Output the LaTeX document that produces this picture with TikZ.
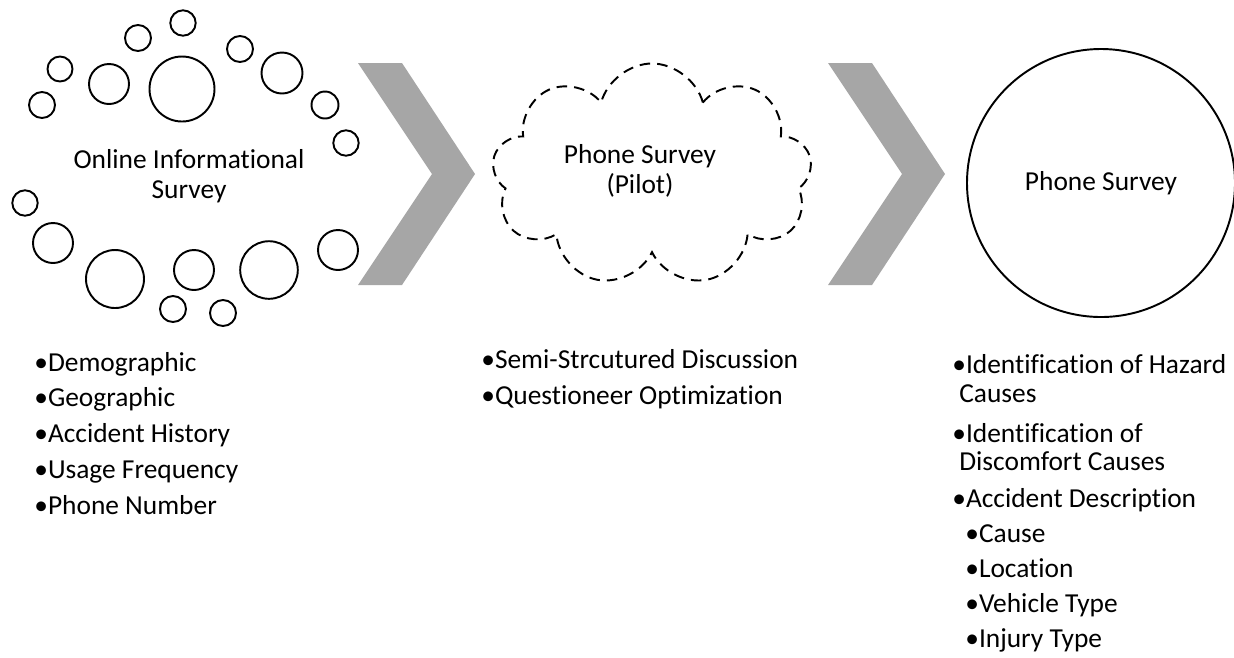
\documentclass[tikz,border=0pt]{standalone}
\usepackage{fontspec}
\setmainfont{Carlito}[RawFeature={-liga}]
\usetikzlibrary{shapes.symbols}

\begin{document}
\begin{tikzpicture}[x=0.02cm, y=-0.02cm,
    every node/.style={font=\fontsize{15.6}{17.2}\selectfont},
    bubble/.style={circle, draw, line width=1.1pt, inner sep=0pt},
    item/.style={anchor=base west, inner sep=0pt}]
  \definecolor{chev}{RGB}{166,166,166}
  \useasboundingbox (0,0) rectangle (1234,657);
  % bubbles round the online survey
  \foreach \bx/\by/\br [count=\k] in {183/23/12.7, 138/38/13, 60/69/12.5, 42/105/13,
      240/49/13, 325/105/13.5, 346/143/12.7, 25/203/12.7, 173/309/13, 223/313/13,
      109/84/20, 282/73/20.5, 53/243/20, 194/270/20, 338/250/20,
      182/89/32.5, 115/279/29, 269/270/28.8} {
    \node[bubble, minimum size=2*\br*0.02cm] (bub\k) at (\bx,\by) {};
  }
  \node[align=center] (online) at (189,176) {Online Informational\\Survey};
  % chevrons
  \foreach \cx in {358,828} {
    \fill[chev] (\cx,63) -- ++(44,0) -- ++(73,111) -- ++(-73,111) -- ++(-44,0)
      -- ++(74,-111) -- cycle;
  }
  % pilot cloud
  \node[cloud, cloud puffs=9, cloud ignores aspect, draw, line width=1.1pt,
        dash pattern=on 6pt off 4pt,
        minimum width=320*0.02cm, minimum height=223*0.02cm] (pilot) at (652,175) {};
  \node[align=center] (pilottxt) at (640,171) {Phone Survey\\(Pilot)};
  % final survey
  \node[circle, draw, line width=1.1pt, inner sep=0pt, minimum size=268*0.02cm]
       (phone) at (1101,183) {Phone Survey};
  % lists
  \foreach \t [count=\k from 0] in {Demographic, Geographic, Accident History,
      Usage Frequency, Phone Number} {
    \node[item] (onl\k) at (34,371+35.75*\k) {•\t};
  }
  \node[item] (pil0) at (481,368) {•Semi-Strcutured Discussion};
  \node[item] (pil1) at (481,404) {•Questioneer Optimization};
  \node[item] (ph0) at (952,373) {•Identification of Hazard};
  \node[item] (ph0b) at (959,402) {Causes};
  \node[item] (ph1) at (952,442) {•Identification of};
  \node[item] (ph1b) at (959,470) {Discomfort Causes};
  \node[item] (ph2) at (952,507) {•Accident Description};
  \foreach \t [count=\k from 0] in {Cause, Location, Vehicle Type, Injury Type} {
    \node[item] (sub\k) at (965,542+35*\k) {•\t};
  }
\end{tikzpicture}
\end{document}
